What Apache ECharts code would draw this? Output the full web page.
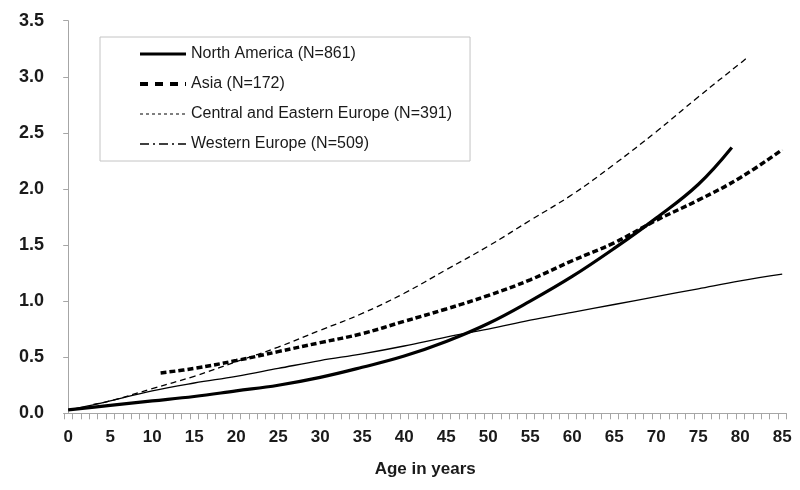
<!DOCTYPE html>
<html>
<head>
<meta charset="utf-8">
<script src="https://cdn.jsdelivr.net/npm/echarts@6/dist/echarts.min.js"></script>
<style>
  html, body { margin: 0; padding: 0; background: #fff; }
  #chart { width: 800px; height: 490px; }
</style>
</head>
<body>
<div id="chart"></div>
<script>
// ---- Data ----
var seriesNames = [
  'North America (N=861)',
  'Asia (N=172)',
  'Central and Eastern Europe (N=391)',
  'Western Europe (N=509)'
];

var naAges   = [0, 5, 10, 15, 20, 25, 30, 35, 40, 45, 50, 55, 60, 65, 70, 75, 79];
var naValues = [0.03, 0.07, 0.11, 0.15, 0.20, 0.25, 0.32, 0.41, 0.51, 0.64, 0.80, 1.00, 1.22, 1.47, 1.74, 2.04, 2.37];

var asiaAges   = [11, 15, 20, 25, 30, 35, 40, 45, 50, 55, 60, 65, 70, 75, 80, 85];
var asiaValues = [0.36, 0.40, 0.47, 0.55, 0.63, 0.71, 0.82, 0.93, 1.05, 1.19, 1.36, 1.52, 1.72, 1.90, 2.10, 2.35];

var ceeAges   = [3, 5, 10, 15, 20, 25, 30, 35, 40, 45, 50, 55, 60, 65, 70, 75, 80, 81];
var ceeValues = [0.08, 0.11, 0.22, 0.33, 0.46, 0.59, 0.74, 0.89, 1.07, 1.28, 1.49, 1.72, 1.95, 2.22, 2.51, 2.82, 3.12, 3.18];

var weAges   = [0, 3, 5, 10, 15, 20, 25, 30, 35, 40, 45, 50, 55, 60, 65, 70, 75, 80, 85];
var weValues = [0.03, 0.075, 0.11, 0.20, 0.27, 0.33, 0.40, 0.47, 0.53, 0.60, 0.68, 0.75, 0.83, 0.90, 0.97, 1.04, 1.11, 1.18, 1.24];

var xLabelValues = [0, 5, 10, 15, 20, 25, 30, 35, 40, 45, 50, 55, 60, 65, 70, 75, 80, 85];
var xTickValues = [];
for (var t = -0.5; t <= 85.5; t += 1) xTickValues.push(t);

function pairs(xs, ys) {
  return xs.map(function (x, i) { return [x, ys[i]]; });
}

var chart = echarts.init(document.getElementById('chart'), null, { renderer: 'canvas' });

var FONT = 'Liberation Sans, Arial, sans-serif';

chart.setOption({
  animation: false,
  backgroundColor: '#ffffff',
  grid: { left: 64, right: 13.6, top: 20.7, bottom: 76.7, containLabel: false },
  legend: {
    orient: 'vertical',
    left: 100,
    top: 37,
    padding: [9, 18, 9, 38],
    itemGap: 14,
    itemWidth: 46,
    itemHeight: 14,
    borderColor: '#c4c4c4',
    borderWidth: 1,
    backgroundColor: '#ffffff',
    itemStyle: { opacity: 0 },
    textStyle: { fontFamily: FONT, fontSize: 16, color: '#1a1a1a' },
    data: [
      { name: seriesNames[0], lineStyle: { width: 3, type: 'solid', color: '#000' } },
      { name: seriesNames[1], lineStyle: { width: 4, type: [8, 7], color: '#000' } },
      { name: seriesNames[2], lineStyle: { width: 1.2, type: [3, 3], color: '#000' } },
      { name: seriesNames[3], lineStyle: { width: 1.3, type: [9, 4, 2, 4], color: '#000' } }
    ]
  },
  xAxis: {
    type: 'value',
    min: -0.5,
    max: 85.5,
    name: 'Age in years',
    nameLocation: 'middle',
    nameGap: 48,
    nameTextStyle: { fontFamily: FONT, fontSize: 17, fontWeight: 'bold', color: '#1a1a1a' },
    axisLine: { show: true, onZero: false, lineStyle: { color: '#a6a6a6', width: 1 } },
    axisTick: { show: true, customValues: xTickValues, length: 6, lineStyle: { color: '#a6a6a6' } },
    axisLabel: {
      customValues: xLabelValues,
      margin: 16,
      fontFamily: FONT, fontSize: 17, fontWeight: 'bold', color: '#1a1a1a'
    },
    splitLine: { show: false }
  },
  yAxis: {
    type: 'value',
    min: 0,
    max: 3.5,
    interval: 0.5,
    axisLine: { show: true, lineStyle: { color: '#a6a6a6', width: 1 } },
    axisTick: { show: true, length: 5, lineStyle: { color: '#a6a6a6' } },
    axisLabel: {
      margin: 20,
      fontFamily: FONT, fontSize: 18, fontWeight: 'bold', color: '#1a1a1a',
      formatter: function (v) { return v.toFixed(1); }
    },
    splitLine: { show: false }
  },
  series: [
    {
      name: seriesNames[0], type: 'line', data: pairs(naAges, naValues),
      symbol: 'none', smooth: 0.4, z: 5,
      lineStyle: { color: '#000', width: 3.2, type: 'solid' }, itemStyle: { color: '#000' }
    },
    {
      name: seriesNames[1], type: 'line', data: pairs(asiaAges, asiaValues),
      symbol: 'none', smooth: 0.4, z: 4,
      lineStyle: { color: '#000', width: 3.5, type: [6, 3] }, itemStyle: { color: '#000' }
    },
    {
      name: seriesNames[2], type: 'line', data: pairs(ceeAges, ceeValues),
      symbol: 'none', smooth: 0.4, z: 3,
      lineStyle: { color: '#000', width: 1.3, type: [6, 4] }, itemStyle: { color: '#000' }
    },
    {
      name: seriesNames[3], type: 'line', data: pairs(weAges, weValues),
      symbol: 'none', smooth: 0.4, z: 3,
      lineStyle: { color: '#000', width: 1.3, type: 'solid' }, itemStyle: { color: '#000' }
    }
  ]
});
</script>
</body>
</html>
